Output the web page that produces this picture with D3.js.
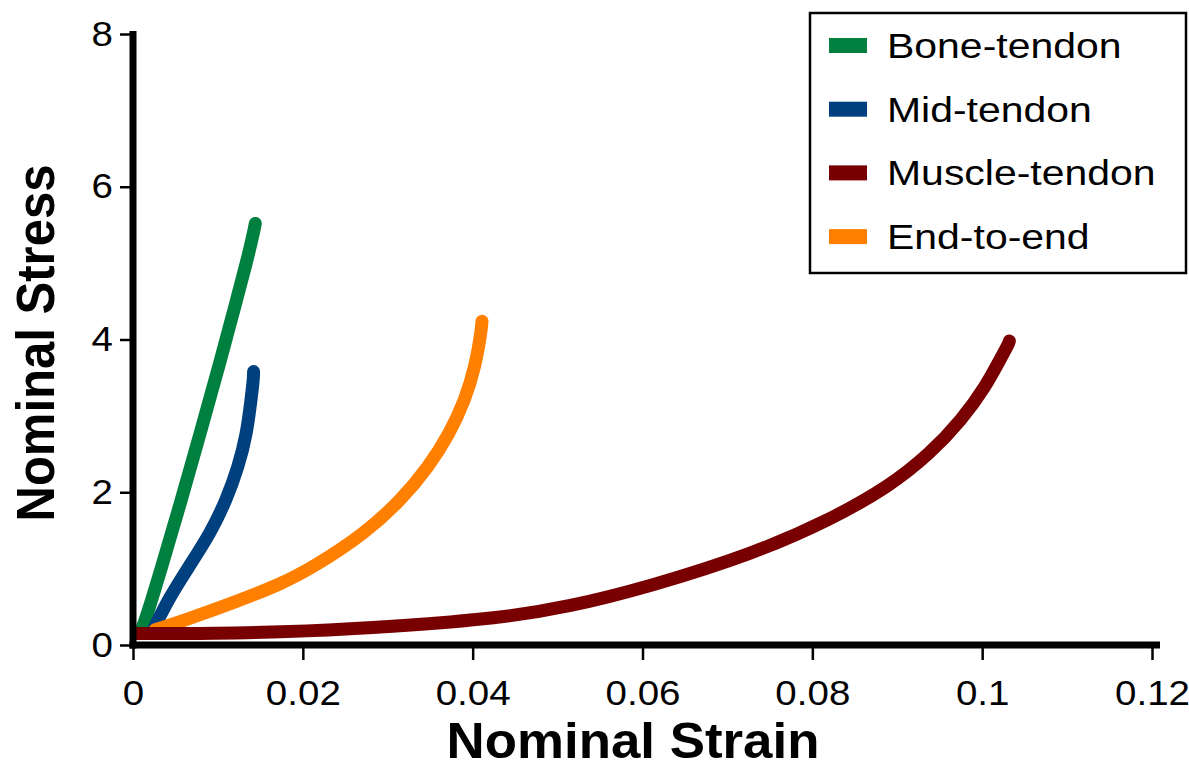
<!DOCTYPE html>
<meta charset="utf-8">
<script src="https://d3js.org/d3.v7.min.js"></script>
<style>
  body { margin: 0; background: #fff; }
  text { font-family: "Liberation Sans", Arial, Helvetica, sans-serif; fill: #000; }
</style>
<div id="my_dataviz"></div>
<script>

// series names and colours (legend order)
var seriesNames = ["Bone-tendon", "Mid-tendon", "Muscle-tendon", "End-to-end"];
var seriesColors = ["#00803f", "#00407f", "#780000", "#ff8000"];

// curves (strain, stress)
var boneStrain = [0.0010, 0.0016, 0.0034, 0.0057, 0.0079, 0.0101, 0.0122, 0.0134, 0.0143, 0.0144];
var boneStress = [0.2, 0.37, 1.03, 1.90, 2.77, 3.64, 4.52, 5.02, 5.45, 5.52];

var midStrain = [0.0024, 0.0041, 0.0066, 0.0091, 0.0110, 0.0124, 0.0134, 0.0139, 0.0142, 0.0142];
var midStress = [0.2, 0.59, 1.03, 1.46, 1.90, 2.33, 2.77, 3.21, 3.5, 3.58];

var muscleStrain = [0.0005, 0.0091, 0.0208, 0.0305, 0.0432, 0.0513, 0.0607, 0.0732, 0.0821, 0.0890, 0.0939, 0.0976, 0.1004, 0.1024, 0.1031, 0.1032];
var muscleStress = [0.15, 0.15, 0.18, 0.24, 0.35, 0.50, 0.76, 1.20, 1.64, 2.07, 2.51, 2.95, 3.38, 3.80, 3.94, 3.98];

var endStrain = [0.0026, 0.0057, 0.0120, 0.0175, 0.0214, 0.0273, 0.0316, 0.0348, 0.0373, 0.0391, 0.0403, 0.0410, 0.0411];
var endStress = [0.2, 0.31, 0.56, 0.80, 1.03, 1.46, 1.90, 2.33, 2.77, 3.21, 3.64, 4.10, 4.24];

// ticks
var xTicks = [0, 0.02, 0.04, 0.06, 0.08, 0.1, 0.12];
var xTickLabels = ["0", "0.02", "0.04", "0.06", "0.08", "0.1", "0.12"];
var yTicks = [0, 2, 4, 6, 8];
var yTickLabels = ["0", "2", "4", "6", "8"];

var W = 1189, H = 764;

var svg = d3.select("#my_dataviz")
  .append("svg")
    .attr("width", W)
    .attr("height", H);

var x = d3.scaleLinear().domain([0, 0.12]).range([133, 1152]);
var y = d3.scaleLinear().domain([0, 8]).range([645, 34]);

// stretch text horizontally a bit, the original figure is wider than its font
function stretch(sel, f) {
  sel.each(function() {
    var w = this.getComputedTextLength();
    d3.select(this).attr("textLength", w * f).attr("lengthAdjust", "spacingAndGlyphs");
  });
}

// clip so the curves do not spill left of the y axis
svg.append("clipPath").attr("id", "plotclip")
  .append("rect")
    .attr("x", x(0) + 2).attr("y", 0)
    .attr("width", W).attr("height", y(0) - 2);

var series = [
  {name: seriesNames[0], color: seriesColors[0], xs: boneStrain, ys: boneStress},
  {name: seriesNames[1], color: seriesColors[1], xs: midStrain, ys: midStress},
  {name: seriesNames[2], color: seriesColors[2], xs: muscleStrain, ys: muscleStress},
  {name: seriesNames[3], color: seriesColors[3], xs: endStrain, ys: endStress}
];

// basis smooths out the reading noise in the traced points
var line = d3.line()
  .x(function(d) { return x(d[0]); })
  .y(function(d) { return y(d[1]); })
  .curve(d3.curveBasis);

// muscle-tendon drawn last, it sits over the feet of the others
var drawOrder = [0, 1, 3, 2];
svg.append("g")
  .attr("clip-path", "url(#plotclip)")
  .selectAll("path")
  .data(drawOrder.map(function(i) { return series[i]; }))
  .enter()
  .append("path")
    .attr("d", function(s) { return line(s.xs.map(function(v, i) { return [v, s.ys[i]]; })); })
    .attr("fill", "none")
    .attr("stroke", function(s) { return s.color; })
    .attr("stroke-width", 13)
    .attr("stroke-linecap", "round")
    .attr("stroke-linejoin", "round");

// x axis ticks and labels
var gx = svg.append("g")
  .attr("transform", "translate(0," + y(0) + ")")
  .call(d3.axisBottom(x)
    .tickValues(xTicks)
    .tickFormat(function(d, i) { return xTickLabels[i]; })
    .tickSize(15)
    .tickPadding(20));
gx.select(".domain").remove();
gx.selectAll(".tick line").attr("stroke", "#000").attr("stroke-width", 2.5);
gx.selectAll(".tick text")
  .attr("font-size", 35)
  .style("font-family", "Liberation Sans, Arial, sans-serif")
  .call(stretch, 1.1);

// y axis ticks and labels
var gy = svg.append("g")
  .attr("transform", "translate(" + x(0) + ",0)")
  .call(d3.axisLeft(y)
    .tickValues(yTicks)
    .tickFormat(function(d, i) { return yTickLabels[i]; })
    .tickSize(13)
    .tickPadding(7));
gy.select(".domain").remove();
gy.selectAll(".tick line").attr("stroke", "#000").attr("stroke-width", 2.5);
gy.selectAll(".tick text")
  .attr("font-size", 35)
  .style("font-family", "Liberation Sans, Arial, sans-serif")
  .call(stretch, 1.1);

// thick axis lines
svg.append("line")
  .attr("x1", x(0)).attr("x2", x(0))
  .attr("y1", y(8) - 3).attr("y2", y(0) + 3.5)
  .attr("stroke", "#000").attr("stroke-width", 7);
svg.append("line")
  .attr("x1", x(0) - 3.5).attr("x2", 1160)
  .attr("y1", y(0)).attr("y2", y(0))
  .attr("stroke", "#000").attr("stroke-width", 7);

// axis titles
svg.append("text")
  .attr("x", 633)
  .attr("y", 758)
  .attr("text-anchor", "middle")
  .attr("font-size", 50)
  .attr("font-weight", "bold")
  .attr("textLength", 373)
  .attr("lengthAdjust", "spacingAndGlyphs")
  .text("Nominal Strain");

svg.append("text")
  .attr("transform", "translate(54,343) rotate(-90)")
  .attr("text-anchor", "middle")
  .attr("font-size", 53)
  .attr("font-weight", "bold")
  .attr("textLength", 357)
  .attr("lengthAdjust", "spacingAndGlyphs")
  .text("Nominal Stress");

// legend
var legend = svg.append("g");
legend.append("rect")
  .attr("x", 810).attr("y", 13)
  .attr("width", 376).attr("height", 260)
  .attr("fill", "#fff")
  .attr("stroke", "#000")
  .attr("stroke-width", 2.5);

var items = legend.selectAll("g.item")
  .data(series)
  .enter()
  .append("g")
    .attr("class", "item")
    .attr("transform", function(d, i) { return "translate(0," + (45.5 + i * 63.7) + ")"; });

items.append("rect")
  .attr("x", 829).attr("y", -7.5)
  .attr("width", 38).attr("height", 15)
  .attr("fill", function(d) { return d.color; });

items.append("text")
  .attr("x", 887)
  .attr("y", 12.5)
  .attr("font-size", 35)
  .text(function(d) { return d.name; })
  .call(stretch, 1.17);

</script>
